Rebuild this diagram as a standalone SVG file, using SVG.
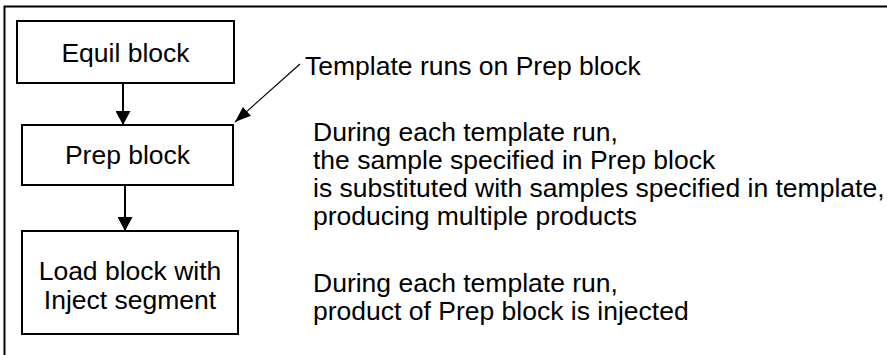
<svg xmlns="http://www.w3.org/2000/svg" width="887" height="355" viewBox="0 0 887 355">
  <style>
    .frame { fill: none; stroke: #000; stroke-width: 2; }
    .box { fill: #fff; stroke: #000; stroke-width: 2; }
    .t { font-family: "Liberation Sans", Arial, Helvetica, sans-serif; font-size: 26.5px; fill: #000; }
    .c { text-anchor: middle; }
    .flow { stroke: #000; stroke-width: 2; fill: none; }
    .thin { stroke: #000; stroke-width: 1.2; fill: none; }
  </style>
  <defs>
    <marker id="headBig" markerUnits="userSpaceOnUse" viewBox="0 0 14 15" refX="14" refY="7.5" markerWidth="14" markerHeight="15" orient="auto">
      <path d="M0,0 L14,7.5 L0,15 z" fill="#000"/>
    </marker>
    <marker id="headThin" markerUnits="userSpaceOnUse" viewBox="0 0 16 12" refX="16" refY="6" markerWidth="16" markerHeight="12" orient="auto">
      <path d="M0,0 L16,6 L0,12 z" fill="#000"/>
    </marker>
  </defs>
  <rect width="887" height="355" fill="#fff"/>
  <path class="frame" d="M4.5,355 L4.5,6.5 L887,6.5"/>

  <g id="equil">
    <rect class="box" x="17" y="21" width="217" height="62"/>
    <text class="t c" x="125.5" y="62">Equil block</text>
  </g>
  <g id="prep">
    <rect class="box" x="22" y="125" width="211" height="60"/>
    <text class="t c" x="127.5" y="164">Prep block</text>
  </g>
  <g id="load">
    <rect class="box" x="22" y="231" width="216" height="103"/>
    <text class="t c" x="130" y="280">Load block with</text>
    <text class="t c" x="130" y="309">Inject segment</text>
  </g>

  <g id="connectors">
    <line class="flow" x1="123" y1="83" x2="123" y2="125" marker-end="url(#headBig)"/>
    <line class="flow" x1="125" y1="185" x2="125" y2="231" marker-end="url(#headBig)"/>
    <line class="thin" x1="300" y1="64" x2="235" y2="122" marker-end="url(#headThin)"/>
  </g>

  <g id="note-template">
    <text class="t" x="305" y="75">Template runs on Prep block</text>
  </g>
  <g id="note-prep">
    <text class="t" x="313" y="141">During each template run,</text>
    <text class="t" x="313" y="169">the sample specified in Prep block</text>
    <text class="t" x="313" y="197">is substituted with samples specified in template,</text>
    <text class="t" x="313" y="225">producing multiple products</text>
  </g>
  <g id="note-load">
    <text class="t" x="313" y="292">During each template run,</text>
    <text class="t" x="313" y="320">product of Prep block is injected</text>
  </g>
</svg>
